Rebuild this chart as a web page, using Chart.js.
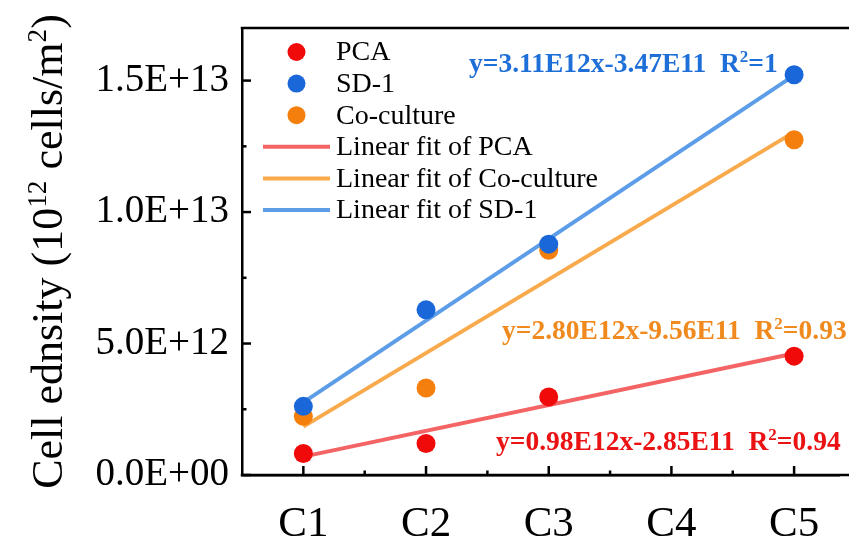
<!DOCTYPE html>
<html>
<head>
<meta charset="utf-8">
<script src="https://cdn.jsdelivr.net/npm/chart.js@4.4.1/dist/chart.umd.min.js"></script>
<style>
  html, body { margin: 0; padding: 0; background: #ffffff; }
  #wrap { width: 849px; height: 554px; position: relative; }
</style>
</head>
<body>
<div id="wrap"><canvas id="c" width="849" height="554"></canvas></div>
<script>
// ---- data ----
const categories = ['C1', 'C2', 'C3', 'C4', 'C5'];
const pointX = [1, 2, 3, 5];
const pcaValues = [0.82e12, 1.20e12, 2.97e12, 4.52e12];
const sd1Values = [2.61e12, 6.28e12, 8.78e12, 15.22e12];
const coValues  = [2.23e12, 3.31e12, 8.55e12, 12.75e12];
const fitX = [1, 5];
const pcaFit = [0.70e12, 4.62e12];
const coFit  = [1.84e12, 13.04e12];
const sd1Fit = [2.76e12, 15.20e12];
const yTickValues = [0, 5e12, 10e12, 15e12];
const yTickLabels = ['0.0E+00', '5.0E+12', '1.0E+13', '1.5E+13'];
const equations = [
  { eq: 'y=3.11E12x-3.47E11', r2: '1',    color: '#1e6fd8' },
  { eq: 'y=2.80E12x-9.56E11', r2: '0.93', color: '#f08a1e' },
  { eq: 'y=0.98E12x-2.85E11', r2: '0.94', color: '#ea1212' }
];
const yTitleParts = [
  { t: 'Cell ednsity (10' }, { t: '12', sup: true }, { t: ' cells/m' }, { t: '2', sup: true }, { t: ')' }
];

const toXY = (xs, ys) => xs.map((x, i) => ({ x: x, y: ys[i] }));

const COL = {
  pca: '#f00a0a', sd1: '#1a67d9', co: '#f57f0c',
  pcaLine: '#f46464', coLine: '#f9aa4d', sd1Line: '#5d9de8'
};

const pointDs = (label, data, color) => ({
  label, data, type: 'scatter', showLine: false,
  pointRadius: 9.5, pointHoverRadius: 9.5,
  pointBackgroundColor: color, pointBorderColor: color, pointBorderWidth: 0,
  backgroundColor: color, borderColor: color, order: 1
});
const lineDs = (label, data, color) => ({
  label, data, type: 'scatter', showLine: true,
  pointRadius: 0, borderColor: color, backgroundColor: color,
  borderWidth: 4, order: 2
});

const datasets = [
  pointDs('PCA', toXY(pointX, pcaValues), COL.pca),
  pointDs('SD-1', toXY(pointX, sd1Values), COL.sd1),
  pointDs('Co-culture', toXY(pointX, coValues), COL.co),
  lineDs('Linear fit of PCA', toXY(fitX, pcaFit), COL.pcaLine),
  lineDs('Linear fit of Co-culture', toXY(fitX, coFit), COL.coLine),
  lineDs('Linear fit of SD-1', toXY(fitX, sd1Fit), COL.sd1Line)
];

const SERIF = '"Liberation Serif", "Times New Roman", serif';

function richWidth(ctx, parts, size, weight) {
  let w = 0;
  parts.forEach(p => {
    ctx.font = weight + ' ' + (p.sup ? size * 0.62 : size) + 'px ' + SERIF;
    w += ctx.measureText(p.t).width;
  });
  return w;
}
function drawRich(ctx, parts, x, y, size, weight) {
  ctx.textBaseline = 'alphabetic';
  ctx.textAlign = 'left';
  const base = y + size * 0.33;
  let cx = x;
  parts.forEach(p => {
    const s = p.sup ? size * 0.62 : size;
    ctx.font = weight + ' ' + s + 'px ' + SERIF;
    ctx.fillText(p.t, cx, p.sup ? base - size * 0.36 : base);
    cx += ctx.measureText(p.t).width;
  });
}

const decor = {
  id: 'decor',
  afterDatasetsDraw(chart) {
    const ctx = chart.ctx;
    const xs = chart.scales.x, ys = chart.scales.y;
    const a = chart.chartArea;
    ctx.save();
    ctx.strokeStyle = '#000';
    ctx.lineWidth = 2.5;
    // top and bottom frame lines, running out to the canvas edge
    ctx.beginPath();
    ctx.moveTo(a.left - 1.25, a.top);
    ctx.lineTo(chart.width, a.top);
    ctx.moveTo(a.left - 1.25, a.bottom);
    ctx.lineTo(chart.width, a.bottom);
    ctx.stroke();
    // x ticks (inward)
    for (let v = 1; v <= 5; v += 0.5) {
      const px = xs.getPixelForValue(v);
      const len = Number.isInteger(v) ? 9 : 4.5;
      ctx.beginPath();
      ctx.moveTo(px, a.bottom);
      ctx.lineTo(px, a.bottom - len);
      ctx.stroke();
    }
    // y ticks (inward)
    for (let v = 0; v <= 15e12; v += 2.5e12) {
      const py = ys.getPixelForValue(v);
      const major = Math.abs(v % 5e12) < 1;
      const len = major ? 9 : 4.5;
      ctx.beginPath();
      ctx.moveTo(a.left, py);
      ctx.lineTo(a.left + len, py);
      ctx.stroke();
    }
    // legend
    const legendItems = [
      { ds: 0, kind: 'pt' }, { ds: 1, kind: 'pt' }, { ds: 2, kind: 'pt' },
      { ds: 3, kind: 'ln' }, { ds: 4, kind: 'ln' }, { ds: 5, kind: 'ln' }
    ];
    const lx0 = a.left + 21, lx1 = a.left + 88, tx = a.left + 94;
    let ly = a.top + 24;
    const step = 31.6;
    legendItems.forEach((it) => {
      const d = chart.data.datasets[it.ds];
      if (it.kind === 'pt') {
        ctx.fillStyle = d.pointBackgroundColor;
        ctx.beginPath();
        ctx.arc((lx0 + lx1) / 2, ly, 9, 0, Math.PI * 2);
        ctx.fill();
      } else {
        ctx.strokeStyle = d.borderColor;
        ctx.lineWidth = 4;
        ctx.beginPath();
        ctx.moveTo(lx0, ly);
        ctx.lineTo(lx1, ly);
        ctx.stroke();
      }
      ctx.fillStyle = '#000';
      ctx.font = '28px ' + SERIF;
      ctx.textAlign = 'left';
      ctx.textBaseline = 'middle';
      ctx.fillText(d.label, tx, ly + 1);
      ly += step;
    });
    // equations
    const eqPos = [[469, 63], [502, 330], [496, 441]];
    equations.forEach((e, i) => {
      ctx.fillStyle = e.color;
      drawRich(ctx, [{ t: e.eq + '  R' }, { t: '2', sup: true }, { t: '=' + e.r2 }],
        eqPos[i][0], eqPos[i][1], 27.5, 'bold');
    });
    // y axis title (rotated)
    ctx.save();
    const cy = (a.top + a.bottom) / 2;
    ctx.translate(47, cy);
    ctx.rotate(-Math.PI / 2);
    ctx.fillStyle = '#000';
    const tw = richWidth(ctx, yTitleParts, 44, 'normal');
    drawRich(ctx, yTitleParts, -tw / 2, 0, 44, 'normal');
    ctx.restore();
    ctx.restore();
  }
};

new Chart(document.getElementById('c'), {
  type: 'scatter',
  data: { datasets },
  options: {
    responsive: false,
    animation: false,
    devicePixelRatio: 1,
    layout: { padding: { top: 28, right: 0, left: 0, bottom: 0 } },
    plugins: { legend: { display: false }, tooltip: { enabled: false } },
    scales: {
      x: {
        type: 'linear', min: 0.5, max: 5.37,
        grid: { display: false, drawTicks: false },
        border: { display: true, color: '#000', width: 2.5 },
        afterBuildTicks(scale) {
          scale.ticks = categories.map((c, i) => ({ value: i + 1 }));
        },
        afterFit(scale) {
          scale.height = 79;
          scale.paddingLeft = 0; scale.paddingRight = 0;
        },
        ticks: {
          padding: 24,
          color: '#000',
          font: { family: SERIF, size: 43 },
          callback: (v) => categories[Math.round(v) - 1] || ''
        }
      },
      y: {
        type: 'linear', min: 0, max: 1.7e13,
        grid: { display: false, drawTicks: false },
        border: { display: true, color: '#000', width: 2.5 },
        afterBuildTicks(scale) {
          scale.ticks = yTickValues.map(v => ({ value: v }));
        },
        afterFit(scale) {
          scale.width = 242;
          scale.paddingTop = 0; scale.paddingBottom = 0;
        },
        ticks: {
          padding: 13,
          color: '#000',
          font: { family: SERIF, size: 39 },
          callback: (v) => {
            const i = yTickValues.indexOf(v);
            return i >= 0 ? yTickLabels[i] : '';
          }
        },
        title: { display: false }
      }
    }
  },
  plugins: [decor]
});
</script>
</body>
</html>
